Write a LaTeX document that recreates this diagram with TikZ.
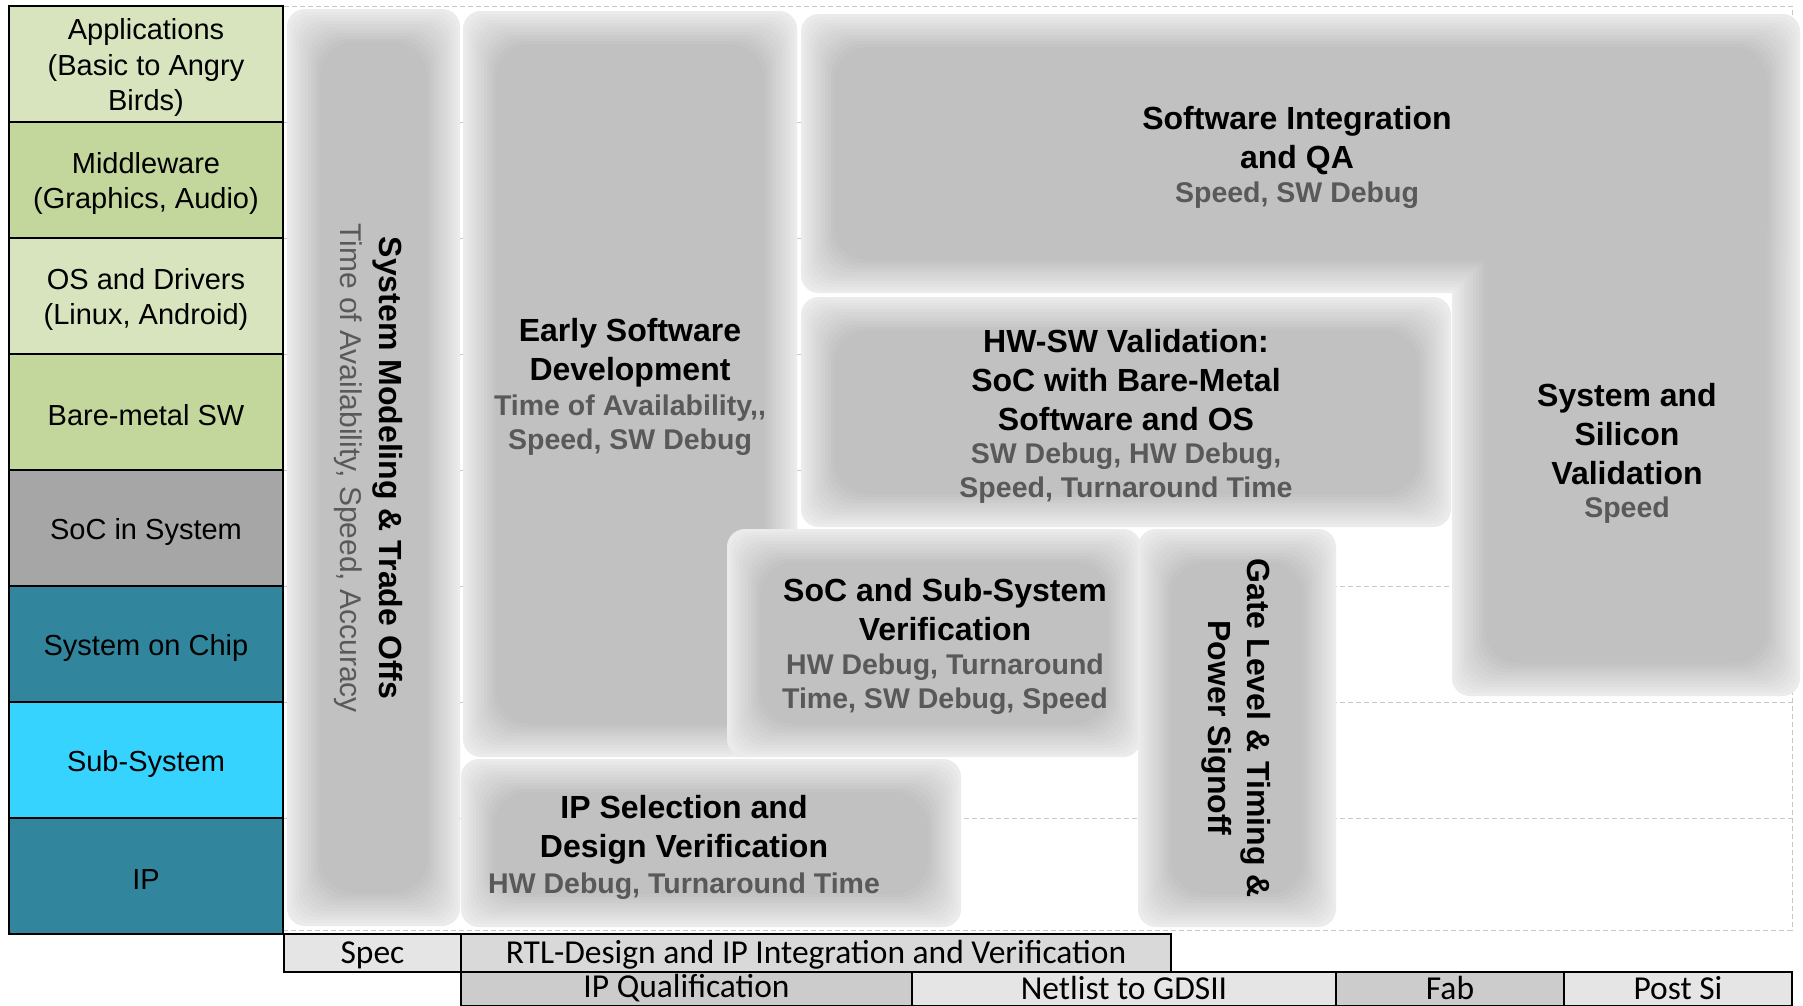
\documentclass[tikz,border=0pt]{standalone}
\usepackage{fontspec}
\setmainfont{Liberation Sans}
\newfontfamily\barfont{Carlito}

\definecolor{appgreen}{HTML}{D7E4BD}
\definecolor{midgreen}{HTML}{C3D69B}
\definecolor{socgray}{HTML}{A6A6A6}
\definecolor{chipteal}{HTML}{31859C}
\definecolor{subcyan}{HTML}{37D3FF}
\definecolor{subtext}{HTML}{595959}
\definecolor{gridline}{HTML}{C8C8C8}

% soft-edged grey block: nested rounded rectangles darkening inwards
\newcommand\softblock[4]{%
  \foreach \k in {0,...,11}{%
    \pgfmathsetmacro\insz{3*\k}%
    \pgfmathsetmacro\tone{16+3*\k}%
    \pgfmathsetmacro\crad{min(18+0.5*\insz,(min(#3-#1,#4-#2)-2*\insz)/2-1)}%
    \fill[gray!\tone, rounded corners=\crad pt] (#1+\insz,#2+\insz) rectangle (#3-\insz,#4-\insz);
  }%
}
% two overlapping soft blocks merged into one seamless shape
\newcommand\softpair[8]{%
  \foreach \k in {0,...,11}{%
    \pgfmathsetmacro\insz{3*\k}%
    \pgfmathsetmacro\tone{16+3*\k}%
    \pgfmathsetmacro\crada{min(18+0.5*\insz,(min(#3-#1,#4-#2)-2*\insz)/2-1)}%
    \pgfmathsetmacro\cradb{min(18+0.5*\insz,(min(#7-#5,#8-#6)-2*\insz)/2-1)}%
    \fill[gray!\tone, rounded corners=\crada pt] (#1+\insz,#2+\insz) rectangle (#3-\insz,#4-\insz);
    \fill[gray!\tone, rounded corners=\cradb pt] (#5+\insz,#6+\insz) rectangle (#7-\insz,#8-\insz);
  }%
}

\begin{document}
\begin{tikzpicture}[x=1pt,y=-1pt,
  layer/.style={draw=black, line width=1.2pt, minimum width=274pt, minimum height=116pt,
    inner sep=0pt, align=center, font=\fontsize{29}{35.5}\selectfont},
  phase/.style={draw=black, line width=1.5pt, inner sep=0pt, font=\barfont\fontsize{33.5}{40}\selectfont},
  title/.style={font=\bfseries\fontsize{32}{39}\selectfont, align=center, inner sep=0pt},
  subt/.style={font=\bfseries\fontsize{28.5}{34.5}\selectfont, text=subtext, align=center, inner sep=0pt},
  gridln/.style={gridline, line width=0.9pt, dash pattern=on 5pt off 3pt}]

\useasboundingbox (0,0) rectangle (1803,1005);
\fill[white] (0,0) rectangle (1803,1005);
\clip (0,0) rectangle (1803,1005);

% frame and row grid of the activity area
\foreach \yy in {122,238,354,470,586,702,818}
  \draw[gridln] (284,\yy) -- (1792,\yy);
\draw[gridln] (284,6) -- (1792,6) -- (1792,930) -- (284,930);

% activity blocks
\softblock{287}{9}{460}{926}
\softblock{463}{11}{797}{757}
\softpair{801}{14}{1800}{293}{1452}{14}{1800}{696}
\softblock{801}{297}{1451}{527}
\softblock{727}{529}{1141}{757}
\softblock{1138}{529}{1336}{927}
\softblock{461}{759}{961}{927}

% block labels
\node[rotate=-90, font=\bfseries\fontsize{32}{39}\selectfont, inner sep=0pt] (smT) at (387.5,468) {System Modeling \& Trade Offs};
\node[rotate=-90, font=\fontsize{30}{36}\selectfont, text=subtext, inner sep=0pt] (smS) at (348.5,468) {Time of Availability, Speed, Accuracy};

\node[title] (esT) at (630,353) {Early Software\\Development};
\node[subt] (esS) at (630,425) {Time of Availability,{},\\Speed, SW Debug};

\node[title] (siT) at (1297,141) {Software Integration\\and QA};
\node[subt] (siS) at (1297,195) {Speed, SW Debug};

\node[title] (hsT) at (1126,380) {HW-SW Validation:\\SoC with Bare-Metal\\Software and OS};
\node[subt] (hsS) at (1126,473) {SW Debug, HW Debug,\\Speed, Turnaround Time};

\node[title] (svT) at (1627,434) {System and\\Silicon\\Validation};
\node[subt] (svS) at (1627,510) {Speed};

\node[title] (ssT) at (945,610) {SoC and Sub-System\\Verification};
\node[subt] (ssS) at (945,684) {HW Debug, Turnaround\\Time, SW Debug, Speed};

\node[rotate=-90, font=\bfseries\fontsize{32}{39}\selectfont, inner sep=0pt] (glA) at (1256,728) {Gate Level \& Timing \&};
\node[rotate=-90, font=\bfseries\fontsize{32}{39}\selectfont, inner sep=0pt] (glB) at (1217,728) {Power Signoff};

\node[title] (ipT) at (684,830) {IP Selection and\\Design Verification};
\node[subt] (ipS) at (684,886) {HW Debug, Turnaround Time};

% abstraction levels
\begin{scope}[every node/.append style={text depth=0pt}]
\node[layer, fill=appgreen] (apps) at (146,64) {};
\node[layer, fill=midgreen] (mid)  at (146,180) {};
\node[layer, fill=appgreen] (os)   at (146,296) {};
\node[layer, fill=midgreen] (bare) at (146,412) {};
\node[layer, fill=socgray]  (sis)  at (146,528) {};
\node[layer, fill=chipteal] (soc)  at (146,644) {};
\node[layer, fill=subcyan]  (sub)  at (146,760) {};
\node[layer, fill=chipteal] (ip)   at (146,876) {};
\end{scope}
\begin{scope}[every node/.style={align=center, inner sep=0pt, font=\fontsize{29}{35.5}\selectfont}]
\node (appsL) at ([yshift=-3.5pt]apps.center) {Applications\\(Basic to Angry\\Birds)};
\node (midL)  at ([yshift=-3.5pt]mid.center)  {Middleware\\(Graphics, Audio)};
\node (osL)   at ([yshift=-3.5pt]os.center)   {OS and Drivers\\(Linux, Android)};
\node (bareL) at ([yshift=-3.5pt]bare.center) {Bare-metal SW};
\node (sisL)  at ([yshift=-3.5pt]sis.center)  {SoC in System};
\node (socL)  at ([yshift=-3.5pt]soc.center)  {System on Chip};
\node (subL)  at ([yshift=-3.5pt]sub.center)  {Sub-System};
\node (ipL)   at ([yshift=-3.5pt]ip.center)   {IP};
\end{scope}

% project phases
\node[phase, fill=gray!20, minimum width=177pt, minimum height=38pt] (spec) at (372.5,953) {};
\node[phase, fill=gray!30, minimum width=710pt, minimum height=38pt] (rtl) at (816,953) {};
\node[phase, fill=gray!40, minimum width=451pt, minimum height=34pt] (ipq) at (686.5,989) {};
\node[phase, fill=gray!20, minimum width=424pt, minimum height=34pt] (gds) at (1124,989) {};
\node[phase, fill=gray!40, minimum width=228pt, minimum height=34pt] (fab) at (1450,989) {};
\node[phase, fill=gray!20, minimum width=228pt, minimum height=34pt] (post) at (1678,989) {};
\begin{scope}[every node/.style={inner sep=0pt, font=\barfont\fontsize{33.5}{40}\selectfont}]
\node (specL) at (372.5,955) {Spec};
\node (rtlL)  at (816,955)   {RTL-Design and IP Integration and Verification};
\node (ipqL)  at (686.5,988) {IP Qualification};
\node (gdsL)  at (1124,988)  {Netlist to GDSII};
\node (fabL)  at (1450,988)  {Fab};
\node (postL) at (1678,988)  {Post Si};
\end{scope}
\end{tikzpicture}
\end{document}
